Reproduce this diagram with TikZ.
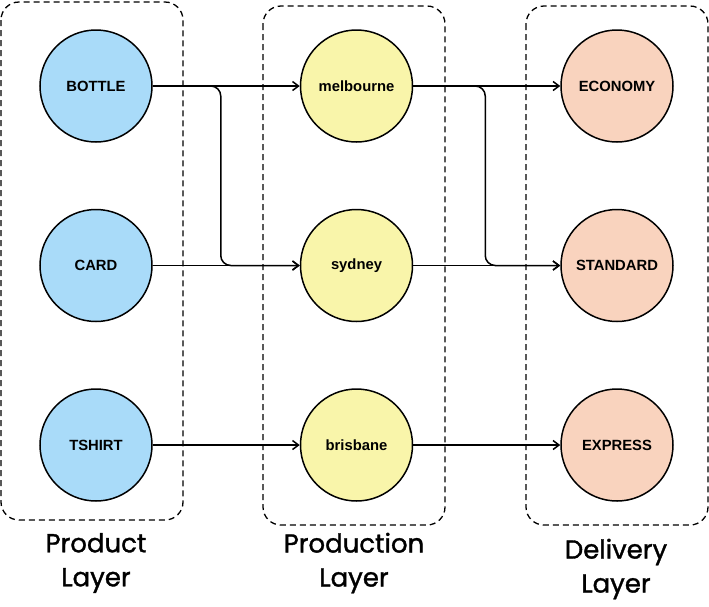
\documentclass[tikz,border=0pt]{standalone}
\usepackage{fontspec}
\setmainfont{Liberation Sans}
\newfontfamily\layerfont[FakeBold=1.3]{Poppins}
\usepackage{tikz}
\usetikzlibrary{arrows.meta,positioning}

\definecolor{prodblue}{RGB}{169,219,249}
\definecolor{siteyellow}{RGB}{249,245,170}
\definecolor{delivpeach}{RGB}{249,211,190}

\begin{document}
\begin{tikzpicture}[
        x=1pt,y=-1pt,
        font=\fontsize{14.8}{17}\selectfont\bfseries,
        >={Straight Barb[length=6pt,width=9pt]},
        node distance=66pt and 147pt,
        hub/.style={circle,draw=black,line width=1.5pt,minimum size=112pt,inner sep=0pt},
        prod/.style={hub,fill=prodblue},
        site/.style={hub,fill=siteyellow},
        deliv/.style={hub,fill=delivpeach},
        layerbox/.style={draw=black,line width=1.3pt,dash pattern=on 6pt off 4pt,rounded corners=18pt},
        layerlabel/.style={font=\layerfont\fontsize{26}{34}\selectfont,align=center},
        arrow/.style={->,line width=1.5pt,rounded corners=10pt}
    ]
        \useasboundingbox (0,0) rectangle (709,606);

        % layer frames
        \draw[layerbox] (1,2) rectangle (183,520);
        \draw[layerbox] (263,6) rectangle (445,525);
        \draw[layerbox] (526,6) rectangle (708,525);

        % products
        \node[prod] (bottle) at (96,86) {BOTTLE};
        \node[prod,below=of bottle] (card) {CARD};
        \node[prod,below=of card] (tshirt) {TSHIRT};

        % production sites
        \node[site,right=of bottle] (melbourne) {melbourne};
        \node[site,right=of card] (sydney) {sydney};
        \node[site,right=of tshirt] (brisbane) {brisbane};

        % delivery options
        \node[deliv,right=of melbourne] (economy) {ECONOMY};
        \node[deliv,right=of sydney] (standard) {STANDARD};
        \node[deliv,right=of brisbane] (express) {EXPRESS};

        % layer names
        \node[layerlabel] (prodlabel) at (96,563) {Product\\Layer};
        \node[layerlabel] (sitelabel) at (354,563) {Production\\Layer};
        \node[layerlabel] (delivlabel) at (616,569) {Delivery\\Layer};

        \draw[arrow] (bottle) -- (melbourne);
        \draw[arrow] (bottle.east) -- ++(68,0) |- (sydney.west);
        \draw[arrow] (card) -- (sydney);
        \draw[arrow] (tshirt) -- (brisbane);
        \draw[arrow] (melbourne) -- (economy);
        \draw[arrow] (melbourne.east) -- ++(72,0) |- (standard.west);
        \draw[arrow] (sydney) -- (standard);
        \draw[arrow] (brisbane) -- (express);
    \end{tikzpicture}
\end{document}
